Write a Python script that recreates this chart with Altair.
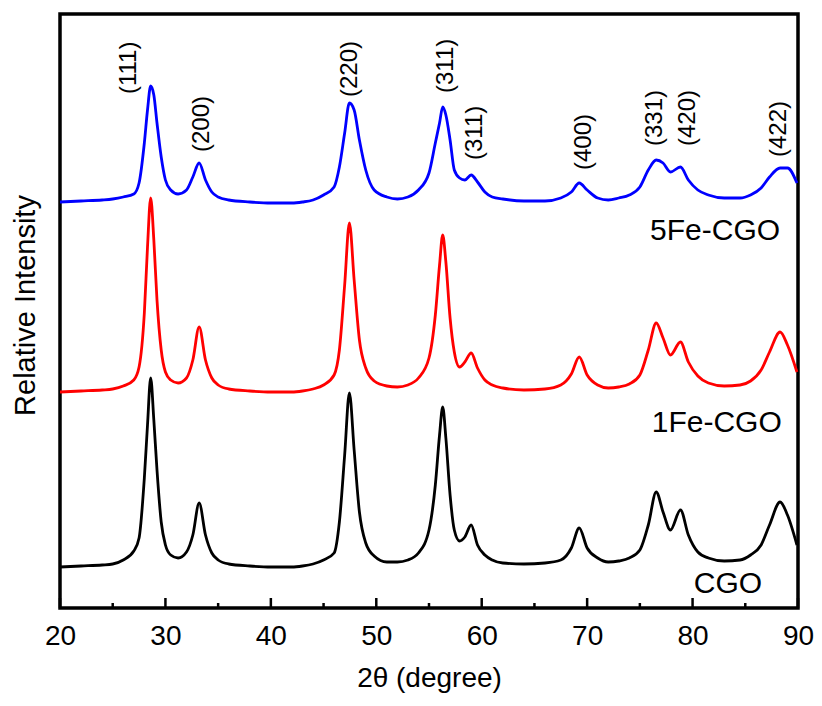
import altair as alt
import pandas as pd

# 2-theta positions (degree) at which the three patterns were read
TWO_THETA = [20, 22, 24, 25, 26, 27, 27.5, 28, 28.3, 28.6,
             28.9, 29.2, 29.6, 30, 30.5, 31.2, 32, 32.6, 33.2, 33.8,
             34.4, 35, 36, 38, 40, 42, 43, 44, 45, 46,
             46.5, 47, 47.45, 47.9, 48.4, 49, 49.8, 51, 52, 53,
             54, 55, 55.6, 56, 56.3, 56.6, 57, 57.4, 57.9, 58.4,
             59, 59.6, 60.3, 61, 62, 64, 66, 67.5, 68.5, 69.25,
             70, 71, 72, 73, 74, 75, 75.8, 76.55, 77.2, 77.9,
             78.85, 79.6, 80.5, 81.5, 83, 84.5, 85.5, 86.5, 87.3, 88.3,
             89, 89.9]

# relative intensity (a.u., stacked with offsets as in the figure)
CGO = [41, 42, 43, 44, 48, 57, 70, 130, 183, 230,
       188, 138, 86, 63, 53, 50, 56, 73, 105, 73,
       55, 48, 44, 42, 41, 41, 42, 44, 48, 55,
       86, 153, 215, 158, 96, 65, 52, 46, 46, 48,
       55, 78, 123, 173, 201, 170, 113, 78, 67, 71,
       83, 63, 53, 48, 45, 44, 45, 48, 60, 80,
       60, 50, 46, 47, 50, 58, 83, 116, 96, 78,
       98, 73, 56, 50, 47, 48, 53, 63, 83, 106,
       93, 63]

FE1_CGO = [216, 217, 218, 219, 222, 228, 241, 295, 361, 410,
           368, 308, 258, 236, 228, 225, 230, 248, 281, 248,
           230, 223, 219, 217, 216, 216, 217, 219, 223, 233,
           258, 323, 385, 328, 268, 240, 227, 222, 221, 223,
           230, 250, 293, 343, 373, 346, 290, 256, 241, 246,
           255, 240, 228, 223, 220, 218, 219, 223, 234, 251,
           233, 223, 220, 221, 224, 233, 258, 285, 270, 253,
           266, 246, 232, 225, 222, 223, 227, 238, 256, 276,
           263, 236]

FE5_CGO = [406, 407, 408, 409, 411, 414, 425, 465, 498, 522,
           513, 485, 451, 428, 418, 414, 418, 431, 445, 428,
           416, 411, 408, 406, 405, 405, 406, 408, 413, 421,
           441, 475, 505, 498, 468, 438, 418, 411, 409, 411,
           418, 435, 465, 485, 501, 493, 468, 438, 430, 428,
           433, 426, 416, 411, 409, 407, 407, 410, 416, 425,
           418, 410, 408, 410, 413, 421, 438, 448, 445, 436,
           441, 428, 418, 413, 410, 410, 413, 420, 431, 440,
           440, 425]

SERIES_NAMES = ["CGO", "1Fe-CGO", "5Fe-CGO"]
SERIES_COLORS = ["#000000", "#ff0000", "#0000ff"]
SERIES_LABEL_X = [86.6, 88.46, 88.3]
SERIES_LABEL_Y = [15, 176, 368]

PEAK_LABELS = ["(111)", "(200)", "(220)", "(311)", "(311)", "(400)", "(331)", "(420)", "(422)"]
PEAK_X = [26.5, 33.5, 47.5, 56.65, 59.4, 69.7, 76.4, 79.6, 88.2]
PEAK_Y = [514, 456, 511, 515, 448, 438, 462, 462, 451]

X_TICKS = [20, 30, 40, 50, 60, 70, 80, 90]
X_MINOR = [25, 35, 45, 55, 65, 75, 85]

FONT = "Liberation Sans"

rows = []
for name, ys in zip(SERIES_NAMES, [CGO, FE1_CGO, FE5_CGO]):
    assert len(ys) == len(TWO_THETA)
    for i, (x, y) in enumerate(zip(TWO_THETA, ys)):
        rows.append({"sample": name, "two_theta": x, "intensity": y, "idx": i})
df = pd.DataFrame(rows)

peaks = pd.DataFrame({"two_theta": PEAK_X, "intensity": PEAK_Y, "label": PEAK_LABELS})
names = pd.DataFrame({"two_theta": SERIES_LABEL_X, "intensity": SERIES_LABEL_Y, "label": SERIES_NAMES})
major = pd.DataFrame({"two_theta": X_TICKS})
minor = pd.DataFrame({"two_theta": X_MINOR})

xs = alt.Scale(domain=[20, 90], nice=False, zero=False)
ys = alt.Scale(domain=[0, 594], nice=False, zero=False)

X_AXIS = alt.Axis(values=X_TICKS, grid=False, domain=False,
                  ticks=False, tickSize=0, labelFont=FONT, labelFontSize=28,
                  labelColor="black", labelPadding=14, labelFlush=False,
                  labelOverlap=False, titleFont=FONT, titleFontSize=28,
                  titleFontWeight="normal", titleColor="black", titlePadding=14)
Y_AXIS = alt.Axis(labels=False, ticks=False, domain=False,
                  grid=False, titleFont=FONT, titleFontSize=29, titleFontWeight="normal",
                  titleColor="black", titlePadding=20, titleY=291)

X_ENC = alt.X("two_theta:Q", scale=xs, axis=X_AXIS, title="2\u03b8 (degree)")
Y_ENC = alt.Y("intensity:Q", scale=ys, axis=Y_AXIS, title="Relative Intensity")

lines = alt.Chart(df).mark_line(strokeWidth=2.8, interpolate="monotone").encode(
    x=X_ENC,
    y=Y_ENC,
    color=alt.Color("sample:N", scale=alt.Scale(domain=SERIES_NAMES, range=SERIES_COLORS), legend=None),
    order="idx:Q",
)

major_ticks = alt.Chart(major).mark_rule(color="black", strokeWidth=2.5).encode(
    x=X_ENC,
    y=alt.value(594), y2=alt.value(584),
)
minor_ticks = alt.Chart(minor).mark_rule(color="black", strokeWidth=2.5).encode(
    x=X_ENC,
    y=alt.value(594), y2=alt.value(589),
)

peak_text = alt.Chart(peaks).mark_text(angle=270, align="left", baseline="middle",
                                       font=FONT, fontSize=24, color="black").encode(
    x=X_ENC,
    y=Y_ENC,
    text="label:N",
)

name_text = alt.Chart(names).mark_text(align="right", baseline="alphabetic",
                                       font=FONT, fontSize=30, color="black").encode(
    x=X_ENC,
    y=Y_ENC,
    text="label:N",
)

chart = alt.layer(lines, major_ticks, minor_ticks, peak_text, name_text).properties(
    width=738, height=594,
    padding={"left": 52, "top": 6, "right": 16, "bottom": 89},
    autosize=alt.AutoSizeParams(type="none"),
    background="white",
).configure_view(stroke="black", strokeWidth=3.5)

chart.save("out.html", embed_options={"renderer": "svg", "actions": False})
